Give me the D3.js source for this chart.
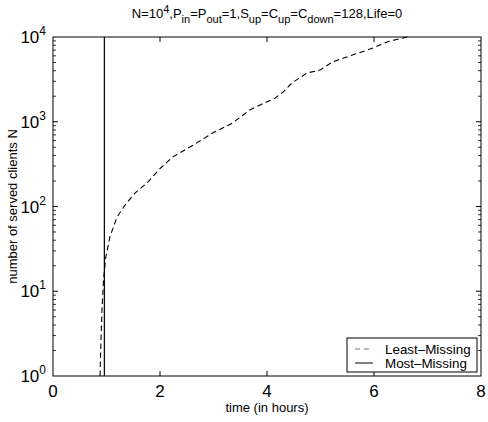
<!DOCTYPE html>
<html><head><meta charset="utf-8">
<script src="https://cdn.jsdelivr.net/npm/d3@7"></script>
<style>body{margin:0;background:#fff;}svg{display:block;font-family:"Liberation Sans",Arial,sans-serif;}</style>
</head><body>
<script>
const leastTime = [0.879,0.897,0.916,0.944,0.985,1.065,1.196,1.346,1.533,1.776,2.0,2.24,2.62,2.99,3.36,3.68,3.87,4.15,4.30,4.47,4.75,4.99,5.23,5.61,5.98,6.24,6.62];
const leastN    = [1,2.7,6,13.5,25,44,75,104,144,195,280,385,530,740,970,1380,1580,1900,2240,2880,3770,4070,5100,6160,7400,8750,10000];
const mostTime = [0.96,0.96];
const mostN    = [1,10000];
const xTicks = [0,2,4,6,8];
const yTicks = [1,10,100,1000,10000];
const seriesNames = ["Least\u2013Missing","Most\u2013Missing"];

const W=488,H=422;
const m={l:53,r:7,t:37,b:46};
const svg=d3.select("body").append("svg").attr("width",W).attr("height",H);
const x=d3.scaleLinear().domain([0,8]).range([m.l,W-m.r]);
const y=d3.scaleLog().domain([1,10000]).range([H-m.b,m.t]);
const x0=m.l,x1=W-m.r,y0=H-m.b,y1=m.t;

svg.append("rect").attr("x",x0).attr("y",y1).attr("width",x1-x0).attr("height",y0-y1)
  .attr("fill","none").attr("stroke","#000").attr("stroke-width",1);

const xt=xTicks.slice(1,-1);
svg.selectAll(".xtb").data(xt).join("line").attr("x1",d=>x(d)).attr("x2",d=>x(d)).attr("y1",y0).attr("y2",y0-5).attr("stroke","#000");
svg.selectAll(".xtt").data(xt).join("line").attr("x1",d=>x(d)).attr("x2",d=>x(d)).attr("y1",y1).attr("y2",y1+5).attr("stroke","#000");
svg.selectAll(".xl").data(xTicks).join("text").attr("x",d=>x(d)).attr("y",y0+21).attr("text-anchor","middle")
  .attr("font-size",17).text(d=>d);

const minor=[];
for(let e=0;e<4;e++){for(let k=2;k<=9;k++)minor.push(k*Math.pow(10,e));}
[[x0,1],[x1,-1]].forEach(([xx,s])=>{
  svg.append("g").selectAll("line").data(minor).join("line")
    .attr("x1",xx).attr("x2",xx+3*s).attr("y1",d=>y(d)).attr("y2",d=>y(d)).attr("stroke","#000").attr("stroke-width",0.8);
  svg.append("g").selectAll("line").data(yTicks.slice(1,-1)).join("line")
    .attr("x1",xx).attr("x2",xx+5*s).attr("y1",d=>y(d)).attr("y2",d=>y(d)).attr("stroke","#000");
});
const yl=svg.selectAll(".yl").data(yTicks).join("text").attr("x",x0-7).attr("y",d=>y(d)+6).attr("text-anchor","end").attr("font-size",17);
yl.append("tspan").text("10");
yl.append("tspan").attr("font-size",12).attr("dy",-8).text(d=>Math.round(Math.log10(d)));

const line=d3.line().x(d=>x(d[0])).y(d=>y(d[1]));
svg.append("path").datum(leastTime.map((t,i)=>[t,leastN[i]])).attr("d",line)
  .attr("fill","none").attr("stroke","#000").attr("stroke-width",1.1).attr("stroke-dasharray","5.5,3.5");
svg.append("path").datum(mostTime.map((t,i)=>[t,mostN[i]])).attr("d",line)
  .attr("fill","none").attr("stroke","#000").attr("stroke-width",1.2);

const title=svg.append("text").attr("x",(x0+x1)/2).attr("y",18).attr("text-anchor","middle").attr("font-size",13);
const parts=[["N=10",0],["4",1],[",P",0],["in",-1],["=P",0],["out",-1],["=1,S",0],["up",-1],["=C",0],["up",-1],["=C",0],["down",-1],["=128,Life=0",0]];
let cur=0;
parts.forEach(([t,s])=>{
  const target = s===1?-5.5:(s===-1?4.5:0);
  const ts=title.append("tspan").text(t).attr("dy",target-cur);
  if(s!==0)ts.attr("font-size",11);
  cur=target;
});

svg.append("text").attr("x",(x0+x1)/2).attr("y",412).attr("text-anchor","middle").attr("font-size",13).text("time (in hours)");
svg.append("text").attr("transform",`translate(17,${(y0+y1)/2}) rotate(-90)`).attr("text-anchor","middle").attr("font-size",13).text("number of served clients N");

const lg=svg.append("g");
lg.append("rect").attr("x",347).attr("y",338).attr("width",130).attr("height",34).attr("fill","#fff").attr("stroke","#000");
[[0,"5,4"],[1,null]].forEach(([i,da])=>{
  const yy=349+i*14;
  const l=lg.append("line").attr("x1",355).attr("x2",373).attr("y1",yy).attr("y2",yy).attr("stroke","#000");
  if(da)l.attr("stroke-dasharray",da).attr("stroke","#777");
  lg.append("text").attr("x",385).attr("y",yy+4.5).attr("font-size",13.4).text(seriesNames[i]);
});
</script>
</body></html>
